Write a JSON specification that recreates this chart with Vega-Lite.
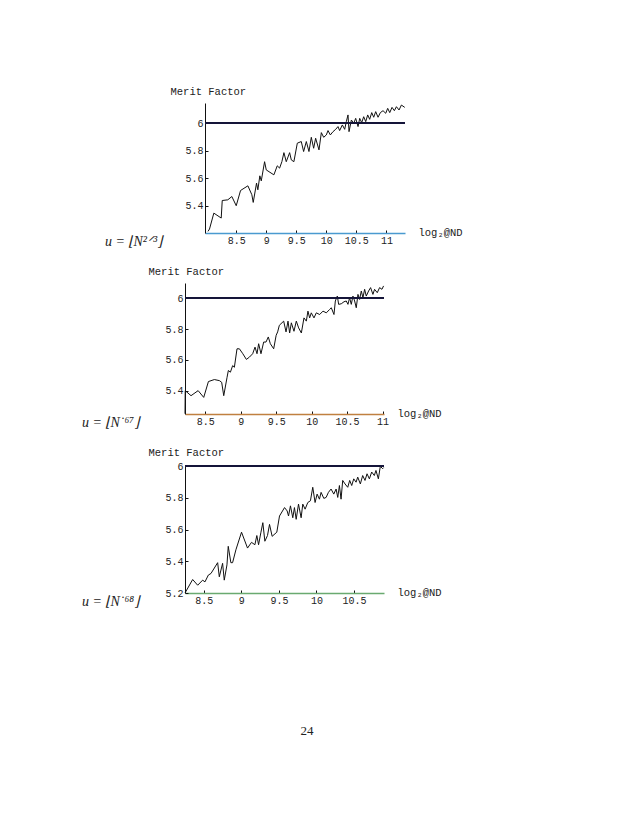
{
  "$schema": "https://vega.github.io/schema/vega-lite/v6.json",
  "padding": {"left": 82, "top": 86, "right": 0, "bottom": 0},
  "autosize": {"type": "pad"},
  "background": "white",
  "spacing": 17,
  "config": {
    "view": {"stroke": null},
    "axis": {
      "grid": false,
      "labelFont": "Liberation Mono",
      "labelFontSize": 10,
      "labelColor": "#222222",
      "domainColor": "#111111",
      "tickColor": "#111111",
      "tickSize": -3,
      "labelPadding": 5,
      "titleFont": "Liberation Mono",
      "titleFontSize": 10.5,
      "titleFontWeight": "normal",
      "titleColor": "#222222",
      "format": "~g",
      "labelFlush": false,
      "labelOverlap": false
    },
    "title": {"font": "Liberation Serif", "fontSize": 14, "fontStyle": "italic", "fontWeight": "normal", "color": "#222222", "orient": "bottom", "anchor": "start", "frame": "group", "offset": 0}
  },
  "vconcat": [
    {
      "spacing": 19,
      "bounds": "flush",
      "hconcat": [
        {"width": 1, "height": 1, "data": {"values": []}, "mark": {"type": "point", "opacity": 0}},
        {
          "width": 200,
          "height": 130,
          "title": {"text": "u = ⌊N²ᐟ³⌋", "dx": -100, "dy": -14},
          "data": {"values": [
            {"x": 8.03, "y": 5.212}, {"x": 8.055, "y": 5.229}, {"x": 8.127, "y": 5.345}, {"x": 8.25, "y": 5.309},
            {"x": 8.267, "y": 5.437}, {"x": 8.36, "y": 5.442}, {"x": 8.427, "y": 5.466}, {"x": 8.5, "y": 5.399},
            {"x": 8.572, "y": 5.51}, {"x": 8.694, "y": 5.544}, {"x": 8.76, "y": 5.479}, {"x": 8.783, "y": 5.423},
            {"x": 8.838, "y": 5.564}, {"x": 8.86, "y": 5.515}, {"x": 8.893, "y": 5.617}, {"x": 8.917, "y": 5.58},
            {"x": 8.972, "y": 5.72}, {"x": 9.0, "y": 5.66}, {"x": 9.127, "y": 5.624}, {"x": 9.183, "y": 5.69},
            {"x": 9.222, "y": 5.673}, {"x": 9.26, "y": 5.72}, {"x": 9.294, "y": 5.786}, {"x": 9.333, "y": 5.72},
            {"x": 9.389, "y": 5.786}, {"x": 9.417, "y": 5.733}, {"x": 9.46, "y": 5.72}, {"x": 9.517, "y": 5.855},
            {"x": 9.583, "y": 5.867}, {"x": 9.622, "y": 5.794}, {"x": 9.667, "y": 5.867}, {"x": 9.711, "y": 5.794},
            {"x": 9.75, "y": 5.898}, {"x": 9.789, "y": 5.818}, {"x": 9.822, "y": 5.891}, {"x": 9.878, "y": 5.806},
            {"x": 9.917, "y": 5.932}, {"x": 9.956, "y": 5.898}, {"x": 10.0, "y": 5.915}, {"x": 10.028, "y": 5.947},
            {"x": 10.067, "y": 5.915}, {"x": 10.111, "y": 5.939}, {"x": 10.156, "y": 5.956}, {"x": 10.194, "y": 5.976},
            {"x": 10.222, "y": 5.947}, {"x": 10.267, "y": 5.988}, {"x": 10.306, "y": 5.956}, {"x": 10.333, "y": 6.012},
            {"x": 10.361, "y": 6.061}, {"x": 10.378, "y": 5.939}, {"x": 10.417, "y": 6.024}, {"x": 10.456, "y": 6.0},
            {"x": 10.489, "y": 6.036}, {"x": 10.528, "y": 5.976}, {"x": 10.556, "y": 6.036}, {"x": 10.589, "y": 6.005},
            {"x": 10.622, "y": 6.048}, {"x": 10.656, "y": 6.012}, {"x": 10.689, "y": 6.061}, {"x": 10.722, "y": 6.029},
            {"x": 10.756, "y": 6.078}, {"x": 10.789, "y": 6.044}, {"x": 10.822, "y": 6.085}, {"x": 10.861, "y": 6.044},
            {"x": 10.9, "y": 6.078}, {"x": 10.944, "y": 6.092}, {"x": 10.989, "y": 6.073}, {"x": 11.022, "y": 6.109},
            {"x": 11.056, "y": 6.078}, {"x": 11.094, "y": 6.116}, {"x": 11.133, "y": 6.092}, {"x": 11.167, "y": 6.121},
            {"x": 11.211, "y": 6.097}, {"x": 11.25, "y": 6.133}, {"x": 11.306, "y": 6.116}
          ]},
          "layer": [
            {
              "mark": {"type": "line", "color": "#111111", "strokeWidth": 1},
              "encoding": {
                "x": {"field": "x", "type": "quantitative", "scale": {"domain": [7.98, 11.31], "nice": false, "zero": false},
                  "axis": {"values": [8.5, 9, 9.5, 10, 10.5, 11], "labelOverlap": false, "title": "log₂@ND", "titleX": 213, "titleY": -1, "titleAlign": "left", "titleBaseline": "middle", "domainColor": "#4a9ad0", "domainWidth": 1.5}},
                "y": {"field": "y", "type": "quantitative", "scale": {"domain": [5.2, 6.148], "nice": false, "zero": false},
                  "axis": {"values": [5.4, 5.6, 5.8, 6], "labelOverlap": false, "title": "Merit Factor", "titleAngle": 0, "titleX": -35, "titleY": -9, "titleAlign": "left", "titleBaseline": "alphabetic"}}
              }
            },
            {"mark": {"type": "rule", "color": "#15153a", "strokeWidth": 1.3}, "encoding": {"y": {"datum": 6, "type": "quantitative"}}}
          ]
        }
      ]
    },
    {
      "width": 199,
      "height": 131,
      "title": {"text": "u = ⌊N˙⁶⁷⌋", "dx": -103, "dy": -14},
      "data": {"values": [
        {"x": 8.215, "y": 5.25}, {"x": 8.218, "y": 5.4}, {"x": 8.3, "y": 5.367}, {"x": 8.4, "y": 5.4},
        {"x": 8.479, "y": 5.356}, {"x": 8.545, "y": 5.459}, {"x": 8.629, "y": 5.472}, {"x": 8.7, "y": 5.465},
        {"x": 8.732, "y": 5.454}, {"x": 8.761, "y": 5.367}, {"x": 8.808, "y": 5.487}, {"x": 8.826, "y": 5.531},
        {"x": 8.855, "y": 5.52}, {"x": 8.887, "y": 5.563}, {"x": 8.911, "y": 5.552}, {"x": 8.948, "y": 5.672},
        {"x": 8.982, "y": 5.672}, {"x": 9.03, "y": 5.64}, {"x": 9.08, "y": 5.603}, {"x": 9.123, "y": 5.618},
        {"x": 9.169, "y": 5.64}, {"x": 9.202, "y": 5.683}, {"x": 9.23, "y": 5.64}, {"x": 9.253, "y": 5.705},
        {"x": 9.286, "y": 5.64}, {"x": 9.324, "y": 5.716}, {"x": 9.357, "y": 5.716}, {"x": 9.389, "y": 5.749},
        {"x": 9.418, "y": 5.705}, {"x": 9.465, "y": 5.672}, {"x": 9.5, "y": 5.76}, {"x": 9.521, "y": 5.782},
        {"x": 9.545, "y": 5.825}, {"x": 9.606, "y": 5.852}, {"x": 9.639, "y": 5.782}, {"x": 9.667, "y": 5.852},
        {"x": 9.69, "y": 5.775}, {"x": 9.714, "y": 5.841}, {"x": 9.751, "y": 5.786}, {"x": 9.784, "y": 5.852},
        {"x": 9.817, "y": 5.808}, {"x": 9.855, "y": 5.775}, {"x": 9.892, "y": 5.873}, {"x": 9.925, "y": 5.852},
        {"x": 9.948, "y": 5.917}, {"x": 9.972, "y": 5.873}, {"x": 9.995, "y": 5.906}, {"x": 10.033, "y": 5.873},
        {"x": 10.066, "y": 5.906}, {"x": 10.113, "y": 5.895}, {"x": 10.16, "y": 5.917}, {"x": 10.207, "y": 5.906},
        {"x": 10.254, "y": 5.928}, {"x": 10.277, "y": 5.939}, {"x": 10.315, "y": 5.895}, {"x": 10.334, "y": 5.983},
        {"x": 10.362, "y": 6.015}, {"x": 10.381, "y": 5.961}, {"x": 10.418, "y": 5.965}, {"x": 10.456, "y": 5.978},
        {"x": 10.488, "y": 5.983}, {"x": 10.512, "y": 5.961}, {"x": 10.535, "y": 6.004}, {"x": 10.559, "y": 5.961},
        {"x": 10.582, "y": 6.015}, {"x": 10.606, "y": 5.983}, {"x": 10.629, "y": 5.939}, {"x": 10.653, "y": 6.026},
        {"x": 10.676, "y": 5.993}, {"x": 10.7, "y": 6.048}, {"x": 10.723, "y": 6.004}, {"x": 10.747, "y": 6.059},
        {"x": 10.77, "y": 6.015}, {"x": 10.803, "y": 6.048}, {"x": 10.831, "y": 6.07}, {"x": 10.864, "y": 6.026},
        {"x": 10.887, "y": 6.059}, {"x": 10.925, "y": 6.037}, {"x": 10.958, "y": 6.07}, {"x": 10.991, "y": 6.059},
        {"x": 11.014, "y": 6.081}
      ]},
      "layer": [
        {
          "mark": {"type": "line", "color": "#111111", "strokeWidth": 1},
          "encoding": {
            "x": {"field": "x", "type": "quantitative", "scale": {"domain": [8.215, 11.02], "nice": false, "zero": false},
              "axis": {"values": [8.5, 9, 9.5, 10, 10.5, 11], "labelOverlap": false, "title": "log₂@ND", "titleX": 212, "titleY": -1, "titleAlign": "left", "titleBaseline": "middle", "domainColor": "#c08040", "domainWidth": 1.5}},
            "y": {"field": "y", "type": "quantitative", "scale": {"domain": [5.248, 6.1], "nice": false, "zero": false},
              "axis": {"values": [5.4, 5.6, 5.8, 6], "labelOverlap": false, "title": "Merit Factor", "titleAngle": 0, "titleX": -37, "titleY": -9, "titleAlign": "left", "titleBaseline": "alphabetic"}}
          }
        },
        {"mark": {"type": "rule", "color": "#15153a", "strokeWidth": 1.3}, "encoding": {"y": {"datum": 6, "type": "quantitative"}}}
      ]
    },
    {
      "width": 199,
      "height": 127,
      "title": {"text": "u = ⌊N˙⁶⁸⌋", "dx": -103, "dy": -14},
      "data": {"values": [
        {"x": 8.249, "y": 5.2}, {"x": 8.351, "y": 5.285}, {"x": 8.418, "y": 5.249}, {"x": 8.484, "y": 5.281},
        {"x": 8.515, "y": 5.27}, {"x": 8.56, "y": 5.313}, {"x": 8.595, "y": 5.323}, {"x": 8.684, "y": 5.391},
        {"x": 8.706, "y": 5.302}, {"x": 8.75, "y": 5.387}, {"x": 8.772, "y": 5.281}, {"x": 8.808, "y": 5.377},
        {"x": 8.825, "y": 5.494}, {"x": 8.86, "y": 5.391}, {"x": 8.883, "y": 5.391}, {"x": 8.927, "y": 5.472},
        {"x": 9.002, "y": 5.583}, {"x": 9.082, "y": 5.483}, {"x": 9.135, "y": 5.519}, {"x": 9.18, "y": 5.504},
        {"x": 9.206, "y": 5.562}, {"x": 9.229, "y": 5.504}, {"x": 9.259, "y": 5.579}, {"x": 9.286, "y": 5.643},
        {"x": 9.313, "y": 5.526}, {"x": 9.348, "y": 5.562}, {"x": 9.375, "y": 5.632}, {"x": 9.41, "y": 5.557},
        {"x": 9.472, "y": 5.583}, {"x": 9.508, "y": 5.685}, {"x": 9.575, "y": 5.738}, {"x": 9.61, "y": 5.717},
        {"x": 9.628, "y": 5.685}, {"x": 9.654, "y": 5.749}, {"x": 9.685, "y": 5.674}, {"x": 9.707, "y": 5.738},
        {"x": 9.73, "y": 5.664}, {"x": 9.761, "y": 5.76}, {"x": 9.796, "y": 5.674}, {"x": 9.818, "y": 5.76},
        {"x": 9.849, "y": 5.728}, {"x": 9.885, "y": 5.77}, {"x": 9.92, "y": 5.781}, {"x": 9.951, "y": 5.866},
        {"x": 9.982, "y": 5.77}, {"x": 10.009, "y": 5.823}, {"x": 10.04, "y": 5.791}, {"x": 10.062, "y": 5.834},
        {"x": 10.098, "y": 5.796}, {"x": 10.129, "y": 5.802}, {"x": 10.16, "y": 5.834}, {"x": 10.195, "y": 5.855},
        {"x": 10.231, "y": 5.823}, {"x": 10.262, "y": 5.855}, {"x": 10.284, "y": 5.802}, {"x": 10.306, "y": 5.877},
        {"x": 10.328, "y": 5.791}, {"x": 10.35, "y": 5.909}, {"x": 10.381, "y": 5.887}, {"x": 10.417, "y": 5.866},
        {"x": 10.443, "y": 5.909}, {"x": 10.47, "y": 5.877}, {"x": 10.497, "y": 5.919}, {"x": 10.528, "y": 5.898},
        {"x": 10.55, "y": 5.93}, {"x": 10.585, "y": 5.887}, {"x": 10.616, "y": 5.94}, {"x": 10.647, "y": 5.909},
        {"x": 10.674, "y": 5.951}, {"x": 10.705, "y": 5.919}, {"x": 10.736, "y": 5.962}, {"x": 10.771, "y": 5.94},
        {"x": 10.793, "y": 5.972}, {"x": 10.825, "y": 5.919}, {"x": 10.851, "y": 5.998}, {"x": 10.882, "y": 5.983},
        {"x": 10.895, "y": 5.99}
      ]},
      "layer": [
        {
          "mark": {"type": "line", "color": "#111111", "strokeWidth": 1},
          "encoding": {
            "x": {"field": "x", "type": "quantitative", "scale": {"domain": [8.249, 10.9], "nice": false, "zero": false},
              "axis": {"values": [8.5, 9, 9.5, 10, 10.5], "labelOverlap": false, "title": "log₂@ND", "titleX": 212, "titleY": -1, "titleAlign": "left", "titleBaseline": "middle", "domainColor": "#6aaa70", "domainWidth": 1.5}},
            "y": {"field": "y", "type": "quantitative", "scale": {"domain": [5.2, 6.0], "nice": false, "zero": false},
              "axis": {"values": [5.2, 5.4, 5.6, 5.8, 6], "labelOverlap": false, "title": "Merit Factor", "titleAngle": 0, "titleX": -37, "titleY": -11, "titleAlign": "left", "titleBaseline": "alphabetic"}}
          }
        },
        {"mark": {"type": "rule", "color": "#15153a", "strokeWidth": 1.3}, "encoding": {"y": {"datum": 6, "type": "quantitative", "axis": {"values": [5.2, 5.4, 5.6, 5.8, 6], "labelOverlap": false, "title": "Merit Factor", "titleAngle": 0, "titleX": -37, "titleY": -11, "titleAlign": "left", "titleBaseline": "alphabetic"}}}}
      ]
    },
    {
      "width": 244,
      "height": 200,
      "data": {"values": [{"page": "24"}]},
      "mark": {"type": "text", "font": "Liberation Serif", "fontSize": 13, "color": "#222222", "dy": 5},
      "encoding": {"text": {"field": "page", "type": "nominal"}}
    }
  ]
}
